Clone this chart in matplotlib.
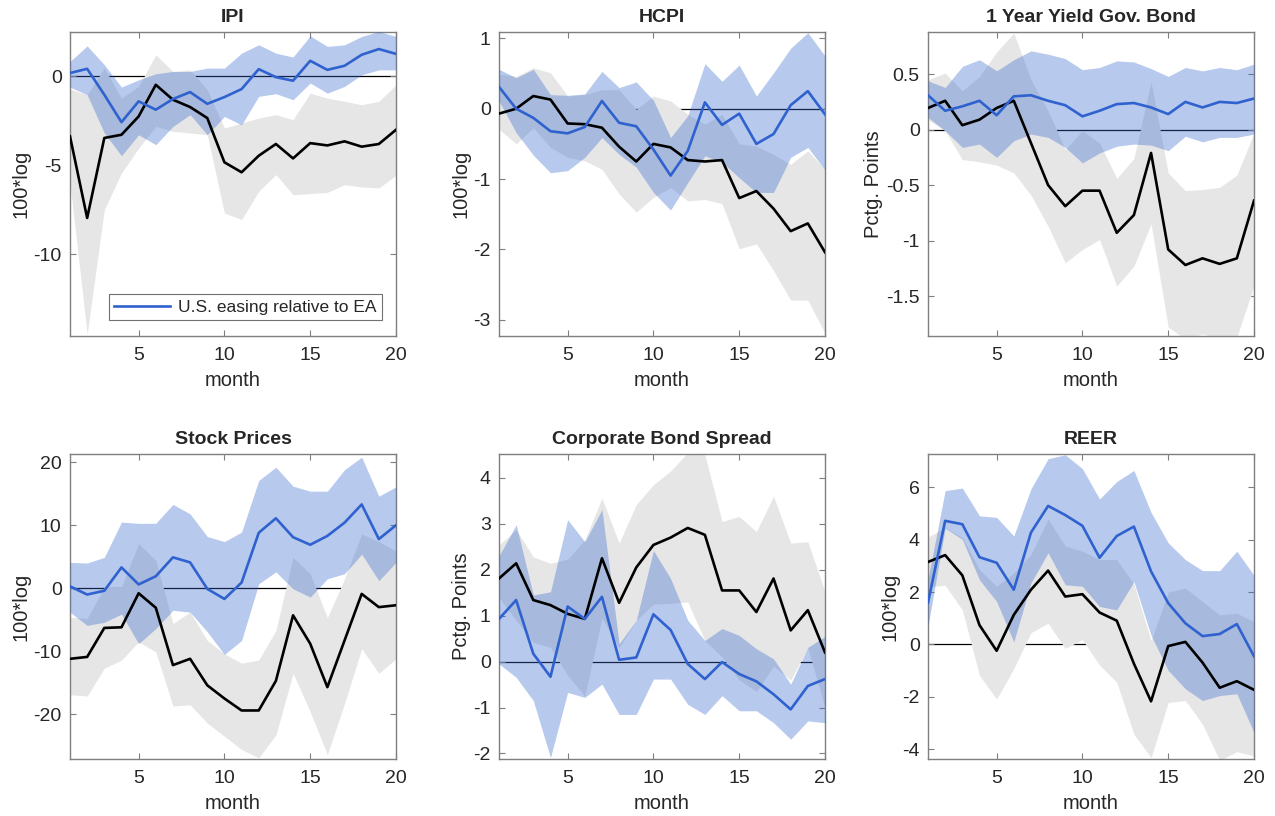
import numpy as np
import matplotlib
matplotlib.use("Agg")
import matplotlib.pyplot as plt

plt.rcParams['font.family'] = ['Liberation Sans', 'DejaVu Sans']

months = np.arange(1, 21)

# ---------------- IPI ----------------
ipi_black = [-3.37, -7.96, -3.46, -3.28, -2.25, -0.47, -1.31, -1.72, -2.34, -4.83,
             -5.39, -4.46, -3.80, -4.61, -3.75, -3.88, -3.65, -3.95, -3.80, -3.00]
ipi_gray_hi = [-0.71, -1.03, 0.47, -1.22, -0.56, 1.22, 0.28, 0.37, -0.75, -2.90,
               -2.62, -2.34, -2.15, -2.43, -0.94, -1.22, -1.40, -1.59, -1.40, -0.47]
ipi_gray_lo = [-5.99, -14.5, -7.49, -5.43, -4.03, -2.81, -3.09, -3.18, -3.28, -7.68,
               -8.05, -6.46, -5.52, -6.65, -6.59, -6.52, -6.09, -6.22, -6.27, -5.56]
ipi_blue = [0.19, 0.43, -1.03, -2.57, -1.40, -1.87, -1.27, -0.88, -1.54, -1.16,
            -0.71, 0.41, -0.04, -0.24, 0.88, 0.37, 0.60, 1.22, 1.54, 1.27]
ipi_blue_hi = [0.84, 1.72, 0.66, -0.60, -0.19, 0.15, 0.28, 0.28, 0.47, 0.47,
               1.31, 1.78, 1.31, 1.09, 2.28, 1.69, 1.78, 2.25, 2.53, 2.25]
ipi_blue_lo = [-0.60, -1.03, -3.18, -4.46, -3.28, -3.84, -2.81, -2.15, -3.28, -2.25,
               -2.72, -1.12, -0.97, -1.31, -0.37, -0.94, -0.56, 0.09, 0.37, 0.37]

# ---------------- HCPI ----------------
hcpi_black = [-0.07, 0.00, 0.18, 0.13, -0.21, -0.22, -0.27, -0.54, -0.75, -0.50,
              -0.55, -0.73, -0.75, -0.73, -1.27, -1.17, -1.42, -1.74, -1.63, -2.04]
hcpi_gray_hi = [0.49, 0.46, 0.58, 0.51, 0.18, 0.20, 0.27, 0.27, -0.01, 0.18,
                0.11, -0.08, -0.22, -0.08, -0.50, -0.53, -0.65, -0.79, -0.60, -0.86]
hcpi_gray_lo = [-0.29, -0.50, -0.27, -0.55, -0.69, -0.74, -0.86, -1.21, -1.47, -1.26,
                -1.12, -1.31, -1.29, -1.35, -1.99, -1.92, -2.30, -2.72, -2.72, -3.19]
hcpi_blue = [0.31, 0.00, -0.13, -0.32, -0.35, -0.26, 0.11, -0.20, -0.25, -0.58,
             -0.95, -0.60, 0.09, -0.23, -0.07, -0.50, -0.36, 0.05, 0.25, -0.08]
hcpi_blue_hi = [0.56, 0.44, 0.56, 0.20, 0.19, 0.21, 0.53, 0.30, 0.38, 0.12,
                -0.41, -0.10, 0.64, 0.39, 0.62, 0.18, 0.51, 0.86, 1.08, 0.75]
hcpi_blue_lo = [0.11, -0.34, -0.66, -0.91, -0.88, -0.69, -0.41, -0.65, -0.83, -1.19,
                -1.44, -1.05, -0.67, -0.76, -0.98, -1.19, -1.19, -0.69, -0.55, -0.87]

# ---------------- 1 Year Yield ----------------
yld_black = [0.195, 0.26, 0.04, 0.09, 0.195, 0.26, -0.12, -0.50, -0.69, -0.55,
             -0.55, -0.93, -0.77, -0.21, -1.08, -1.22, -1.16, -1.21, -1.16, -0.64]
yld_gray_hi = [0.45, 0.51, 0.35, 0.48, 0.70, 0.87, 0.45, 0.17, -0.18, -0.01,
               -0.12, -0.44, -0.26, 0.43, -0.39, -0.55, -0.54, -0.52, -0.41, -0.03]
yld_gray_lo = [0.09, -0.01, -0.27, -0.29, -0.32, -0.39, -0.59, -0.87, -1.20, -1.08,
               -0.99, -1.41, -1.23, -0.85, -1.78, -1.89, -1.84, -1.89, -1.87, -1.41]
yld_blue = [0.31, 0.17, 0.21, 0.26, 0.13, 0.30, 0.31, 0.26, 0.22, 0.12,
            0.17, 0.23, 0.24, 0.20, 0.14, 0.25, 0.20, 0.25, 0.24, 0.28]
yld_blue_hi = [0.44, 0.38, 0.57, 0.63, 0.53, 0.63, 0.71, 0.68, 0.64, 0.54,
               0.56, 0.62, 0.61, 0.55, 0.48, 0.56, 0.53, 0.56, 0.54, 0.59]
yld_blue_lo = [0.11, -0.01, -0.16, -0.13, -0.25, -0.10, -0.04, -0.07, -0.16, -0.30,
               -0.21, -0.15, -0.13, -0.14, -0.19, -0.06, -0.11, -0.07, -0.07, -0.04]

# ---------------- Stock Prices ----------------
stk_black = [-11.2, -10.9, -6.3, -6.2, -0.8, -3.1, -12.2, -11.2, -15.4, -17.5,
             -19.4, -19.4, -14.7, -4.3, -8.8, -15.7, -8.3, -0.9, -3.0, -2.7]
stk_gray_hi = [-4.6, -4.8, 0.2, 0.2, 7.1, 4.4, -5.6, -3.8, -8.3, -10.4,
               -11.9, -11.4, -6.7, 4.9, 2.3, -4.7, 1.5, 8.6, 7.4, 5.9]
stk_gray_lo = [-16.9, -17.1, -12.7, -11.4, -8.5, -10.1, -18.7, -18.5, -21.4, -23.5,
               -25.6, -26.9, -23.3, -13.5, -19.6, -26.4, -18.3, -9.6, -13.5, -11.2]
stk_blue = [0.3, -1.0, -0.4, 3.3, 0.6, 1.9, 4.9, 4.1, -0.1, -1.7,
            0.9, 8.8, 11.1, 8.1, 6.9, 8.3, 10.4, 13.3, 7.8, 10.0]
stk_blue_hi = [4.1, 4.0, 4.9, 10.5, 10.3, 10.3, 13.3, 11.8, 8.2, 7.4,
               8.9, 17.1, 19.2, 16.2, 15.4, 15.4, 18.8, 20.8, 14.6, 16.1]
stk_blue_lo = [-3.8, -5.9, -5.4, -4.1, -8.8, -6.4, -3.5, -3.8, -6.9, -10.5,
               -8.3, 0.7, 2.6, -0.1, -1.4, 1.5, 2.3, 5.4, 1.2, 4.1]

# ---------------- Corporate Bond Spread ----------------
cbs_black = [1.81, 2.14, 1.34, 1.23, 1.04, 0.93, 2.25, 1.28, 2.05, 2.54,
             2.70, 2.91, 2.76, 1.55, 1.55, 1.08, 1.81, 0.68, 1.12, 0.20]
cbs_gray_hi = [2.54, 2.87, 2.28, 2.14, 2.23, 2.65, 3.56, 2.58, 3.42, 3.85,
               4.15, 4.55, 4.50, 3.05, 3.16, 2.83, 3.60, 2.58, 2.61, 1.52]
cbs_gray_lo = [1.40, 0.90, 0.42, 0.31, -0.30, -0.75, 0.95, 0.30, 0.90, 1.25,
               1.27, 1.30, 0.46, 0.10, -0.40, -0.65, -0.10, -0.40, 0.30, -1.00]
cbs_blue = [0.93, 1.34, 0.17, -0.33, 1.20, 0.93, 1.41, 0.04, 0.09, 1.03,
            0.69, -0.05, -0.38, -0.01, -0.27, -0.43, -0.71, -1.04, -0.53, -0.38]
cbs_blue_hi = [2.30, 2.98, 1.45, 1.52, 3.09, 2.61, 3.31, 0.39, 0.90, 2.42,
               1.81, 0.90, 0.46, 0.72, 0.57, 0.28, 0.06, -0.49, 0.31, 0.55]
cbs_blue_lo = [-0.05, -0.34, -0.85, -2.09, -0.67, -0.78, -0.49, -1.15, -1.15, -0.38,
               -0.38, -0.93, -1.15, -0.74, -1.07, -1.07, -1.33, -1.69, -1.29, -1.33]

# ---------------- REER ----------------
reer_black = [3.15, 3.41, 2.64, 0.74, -0.24, 1.13, 2.09, 2.82, 1.83, 1.92,
              1.22, 0.91, -0.73, -2.17, -0.06, 0.10, -0.69, -1.65, -1.40, -1.73]
reer_gray_hi = [4.10, 4.46, 4.08, 2.86, 2.22, 2.73, 3.44, 4.78, 3.76, 3.56,
                3.24, 3.24, 2.30, 0.15, 2.00, 2.15, 1.64, 1.13, 1.19, 0.87]
reer_gray_lo = [2.20, 2.26, 1.32, -1.18, -2.08, -0.92, 0.45, 0.81, -0.15, 0.19,
                -0.79, -1.44, -3.42, -4.32, -2.21, -2.14, -3.04, -4.42, -4.09, -4.26]
reer_blue = [1.60, 4.72, 4.59, 3.33, 3.12, 2.09, 4.27, 5.29, 4.94, 4.53,
             3.31, 4.14, 4.50, 2.79, 1.58, 0.81, 0.32, 0.40, 0.78, -0.45]
reer_blue_hi = [2.50, 5.87, 5.97, 4.91, 4.85, 4.14, 5.94, 7.09, 7.24, 6.71,
                5.55, 6.22, 6.64, 5.04, 3.88, 3.24, 2.82, 2.82, 3.56, 2.64]
reer_blue_lo = [0.70, 4.44, 4.01, 2.47, 1.64, 0.10, 2.35, 3.50, 2.28, 2.22,
                1.45, 1.32, 2.40, 0.35, -0.99, -1.69, -2.14, -1.95, -1.88, -3.36]

titles = ["IPI", "HCPI", "1 Year Yield Gov. Bond",
          "Stock Prices", "Corporate Bond Spread", "REER"]
ylabels = ["100*log", "100*log", "Pctg. Points",
           "100*log", "Pctg. Points", "100*log"]
ylims = [(-14.6, 2.5), (-3.23, 1.09), (-1.86, 0.88),
         (-27.1, 21.3), (-2.12, 4.52), (-4.37, 7.27)]
yticks = [[-10, -5, 0], [-3, -2, -1, 0, 1], [-1.5, -1, -0.5, 0, 0.5],
          [-20, -10, 0, 10, 20], [-2, -1, 0, 1, 2, 3, 4], [-4, -2, 0, 2, 4, 6]]
ytlabels = [["-10", "-5", "0"], ["-3", "-2", "-1", "0", "1"],
            ["-1.5", "-1", "-0.5", "0", "0.5"],
            ["-20", "-10", "0", "10", "20"],
            ["-2", "-1", "0", "1", "2", "3", "4"],
            ["-4", "-2", "0", "2", "4", "6"]]

data = [
    (ipi_black, ipi_gray_lo, ipi_gray_hi, ipi_blue, ipi_blue_lo, ipi_blue_hi),
    (hcpi_black, hcpi_gray_lo, hcpi_gray_hi, hcpi_blue, hcpi_blue_lo, hcpi_blue_hi),
    (yld_black, yld_gray_lo, yld_gray_hi, yld_blue, yld_blue_lo, yld_blue_hi),
    (stk_black, stk_gray_lo, stk_gray_hi, stk_blue, stk_blue_lo, stk_blue_hi),
    (cbs_black, cbs_gray_lo, cbs_gray_hi, cbs_blue, cbs_blue_lo, cbs_blue_hi),
    (reer_black, reer_gray_lo, reer_gray_hi, reer_blue, reer_blue_lo, reer_blue_hi),
]

W, H = 1275, 816
fig = plt.figure(figsize=(W / 100, H / 100), dpi=100)

lefts = [70, 499, 928]
rows = [(32, 336), (454, 759)]
axw = 326

BLUE = (0.2, 0.4, 0.8)
LINEBLUE = "#2f62cf"
GRAY = "#e6e6e6"
SPINE = "#7f7f7f"
TXT = "#262626"

for i in range(6):
    r, c = divmod(i, 3)
    top, bot = rows[r]
    ax = fig.add_axes([lefts[c] / W, (H - bot) / H, axw / W, (bot - top) / H])
    blk, glo, ghi, blu, blo, bhi = data[i]
    ax.axhline(0, color="black", lw=0.9, zorder=1)
    ax.fill_between(months, glo, ghi, color=GRAY, lw=0, zorder=2)
    ax.fill_between(months, blo, bhi, color=BLUE, alpha=0.35, lw=0, zorder=3)
    ax.plot(months, blk, color="black", lw=1.9, zorder=4)
    ln, = ax.plot(months, blu, color=LINEBLUE, lw=1.9, zorder=5)
    ax.set_xlim(1, 20)
    ax.set_ylim(*ylims[i])
    ax.set_xticks([5, 10, 15, 20])
    ax.set_yticks(yticks[i])
    ax.set_yticklabels(ytlabels[i])
    ax.tick_params(direction="in", top=True, right=True, length=4, width=0.8,
                   color=SPINE, labelsize=14, labelcolor=TXT)
    ax.tick_params(axis="x", pad=8)
    ax.tick_params(axis="y", pad=6)
    for s in ax.spines.values():
        s.set_color(SPINE)
        s.set_linewidth(1.0)
    ax.set_title(titles[i], fontsize=14, fontweight="bold", color=TXT, pad=7)
    ax.set_xlabel("month", fontsize=14.5, color=TXT, labelpad=5)
    ax.set_ylabel(ylabels[i], fontsize=14.5, color=TXT, labelpad=2)
    if i == 0:
        leg = ax.legend([ln], ["U.S. easing relative to EA"], loc="lower right",
                        bbox_to_anchor=(0.957, 0.053), borderaxespad=0,
                        fontsize=12.5, frameon=True, fancybox=False,
                        handlelength=3.2, borderpad=0.3, handletextpad=0.5)
        leg.get_frame().set_edgecolor("#4d4d4d")
        leg.get_frame().set_linewidth(0.8)
        for t in leg.get_texts():
            t.set_color(TXT)

fig.savefig("out.png", dpi=100)
